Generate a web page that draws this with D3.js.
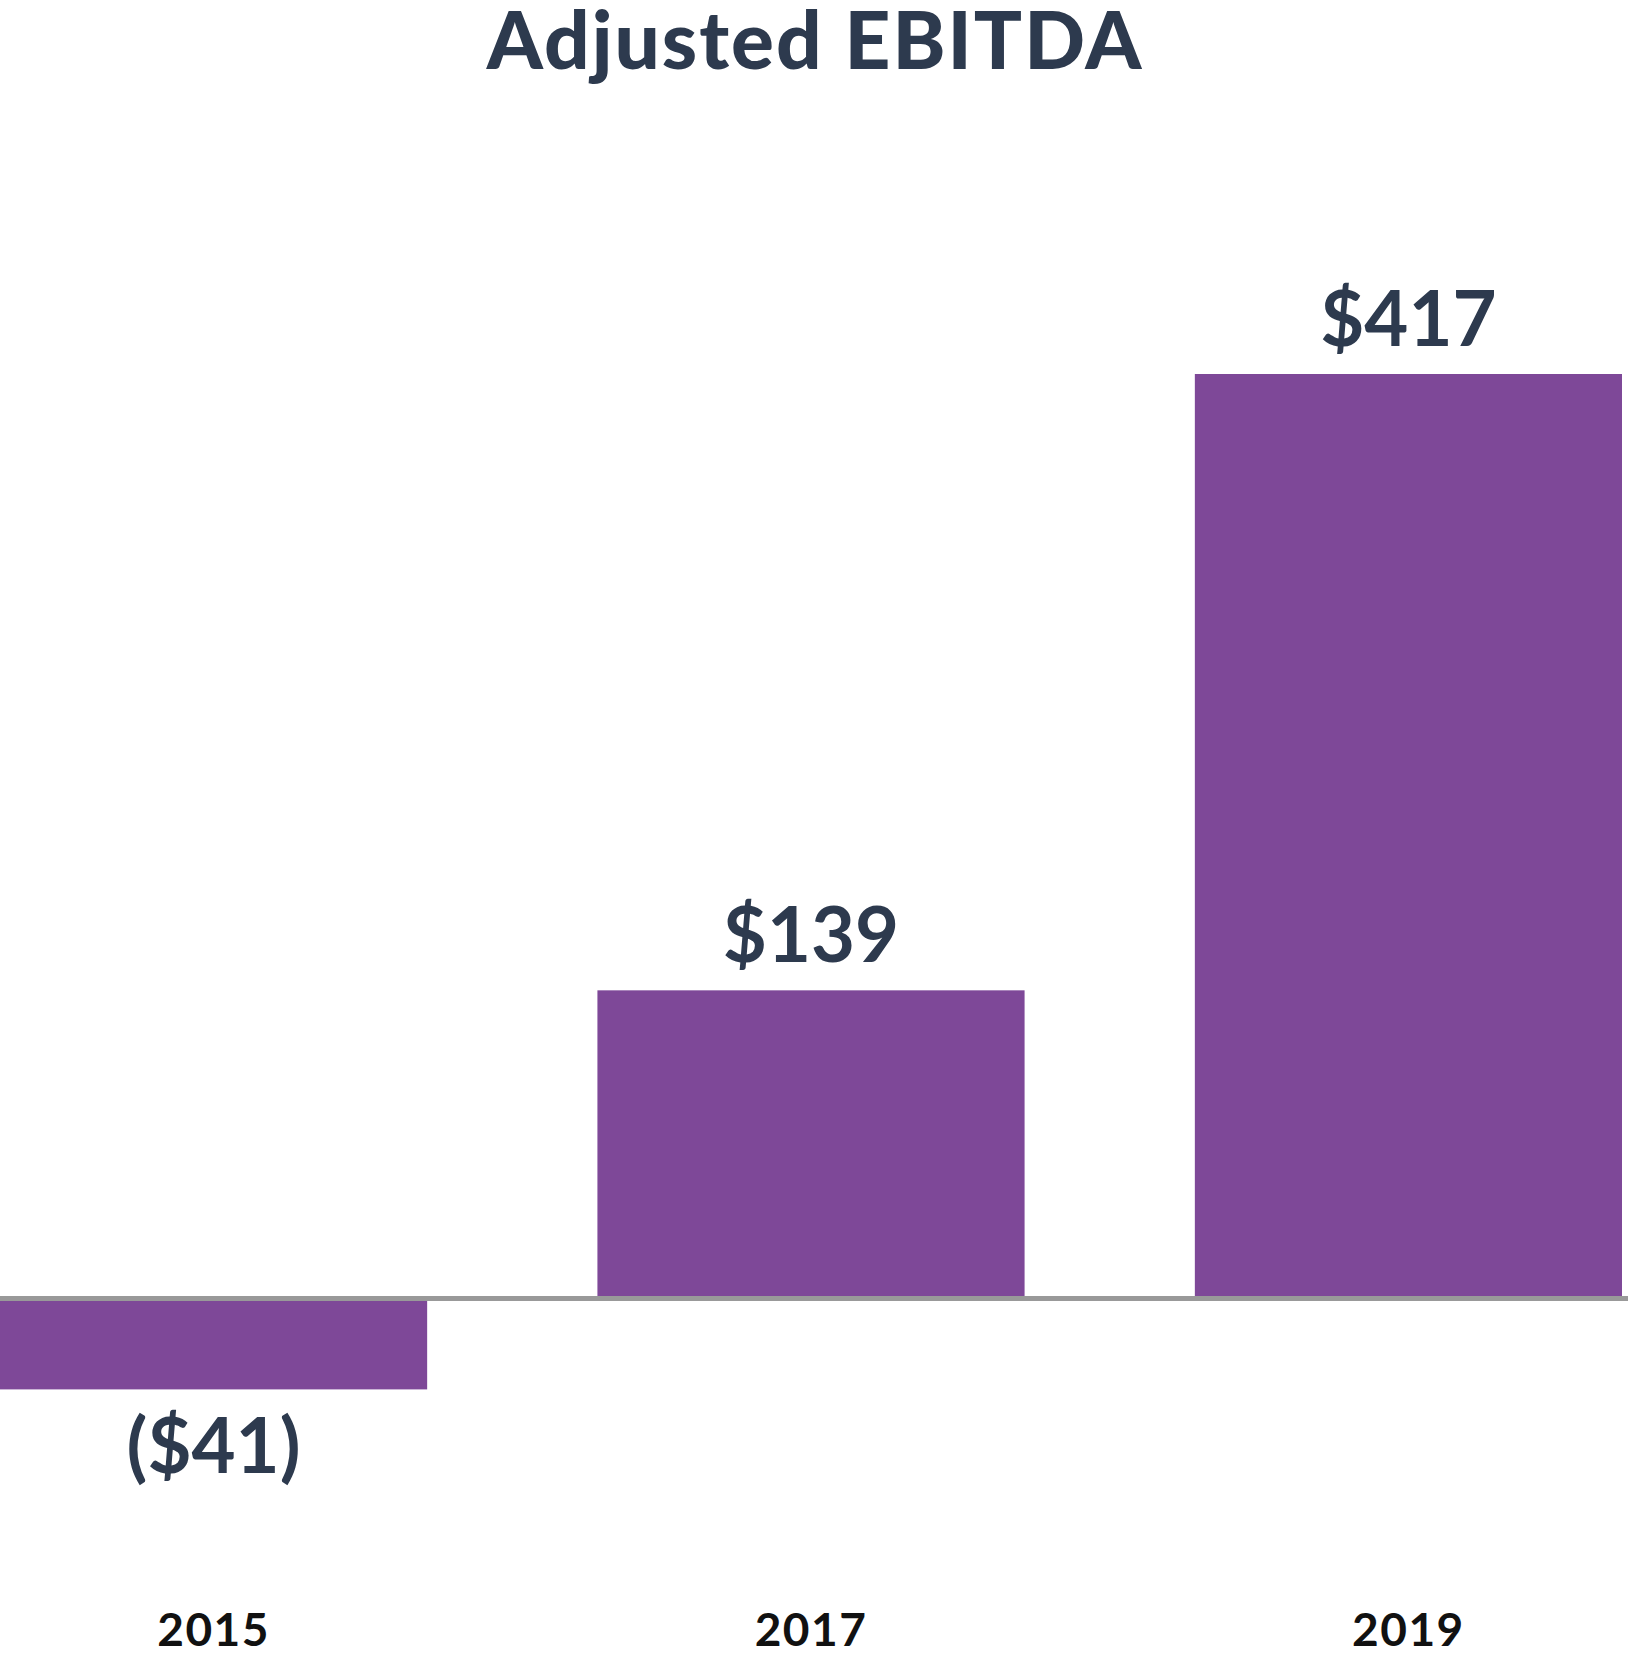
<!DOCTYPE html>
<html lang="en">
<head>
  <meta charset="UTF-8">
  <title>Adjusted EBITDA</title>
  <style>
    body {
      margin: 0;
      background: #fff;
      font-family: Lato, "Open Sans", Arial, sans-serif;
    }
    svg text {
      font-family: Lato, "Open Sans", Arial, sans-serif;
      font-weight: 700;
    }
  </style>
</head>
<body>
<div id="chart"></div>

<script src="https://d3js.org/d3.v7.min.js"></script>
<script>
  // data
  const years = ["2015", "2017", "2019"];
  const ebitda = [-41, 139, 417];
  const valueLabels = ["($41)", "$139", "$417"];
  const chartTitle = "Adjusted EBITDA";

  const width = 1628;
  const height = 1662;

  const svg = d3.select("#chart")
    .append("svg")
    .attr("width", width)
    .attr("height", height);

  const x = d3.scaleBand()
    .domain(years)
    .range([0, 1622])
    .paddingInner(0.285)
    .paddingOuter(0);

  // zero line sits at ~1298, tallest bar top at ~374
  const y = d3.scaleLinear()
    .domain([0, 417])
    .range([1298.5, 374]);

  const data = years.map((yr, i) => ({ year: yr, value: ebitda[i], label: valueLabels[i] }));

  // bars
  svg.selectAll("rect.bar")
    .data(data)
    .enter().append("rect")
    .attr("class", "bar")
    .attr("x", d => x(d.year))
    .attr("width", x.bandwidth())
    .attr("y", d => Math.min(y(d.value), y(0)))
    .attr("height", d => Math.abs(y(d.value) - y(0)))
    .attr("fill", "#7e4898");

  // zero baseline
  svg.append("line")
    .attr("x1", 0)
    .attr("x2", width)
    .attr("y1", y(0))
    .attr("y2", y(0))
    .attr("stroke", "#999")
    .attr("stroke-width", 5);

  // value labels
  svg.selectAll("text.value")
    .data(data)
    .enter().append("text")
    .attr("class", "value")
    .attr("x", d => x(d.year) + x.bandwidth() / 2)
    .attr("y", d => d.value >= 0 ? y(d.value) - 28 : y(d.value) + 84)
    .attr("text-anchor", "middle")
    .attr("fill", "#2d3a4e")
    .style("font-size", "76px")
    .text(d => d.label);

  // year labels
  svg.selectAll("text.year")
    .data(data)
    .enter().append("text")
    .attr("class", "year")
    .attr("x", d => x(d.year) + x.bandwidth() / 2)
    .attr("y", 1646)
    .attr("text-anchor", "middle")
    .attr("fill", "#111")
    .style("font-size", "46px")
    .style("letter-spacing", "1.5px")
    .text(d => d.year);

  // title
  svg.append("text")
    .attr("x", 815)
    .attr("y", 69)
    .attr("text-anchor", "middle")
    .attr("fill", "#2d3a4e")
    .style("font-size", "80px")
    .style("font-weight", 900)
    .style("letter-spacing", "2px")
    .text(chartTitle);
</script>
</body>
</html>
